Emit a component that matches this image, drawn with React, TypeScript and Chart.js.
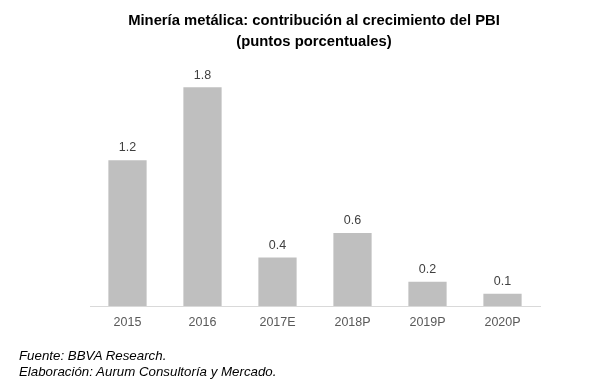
import React, { useEffect, useRef } from "react";
import { Chart, registerables } from "chart.js";

Chart.register(...registerables);

const categories = ["2015", "2016", "2017E", "2018P", "2019P", "2020P"];
const values = [1.2, 1.8, 0.4, 0.6, 0.2, 0.1];
const titleLines = ["Minería metálica: contribución al crecimiento del PBI", "(puntos porcentuales)"];
const footerLines = ["Fuente: BBVA Research.", "Elaboración: Aurum Consultoría y Mercado."];

const valueLabels = {
  id: "valueLabels",
  afterDatasetsDraw(chart: any) {
    const ctx = chart.ctx;
    const meta = chart.getDatasetMeta(0);
    ctx.save();
    ctx.font = "12.5px 'Liberation Sans', Arial, sans-serif";
    ctx.fillStyle = "#404040";
    ctx.textAlign = "center";
    ctx.textBaseline = "bottom";
    meta.data.forEach((bar: any, i: number) => {
      ctx.fillText(values[i].toFixed(1), bar.x, bar.y - 6);
    });
    ctx.restore();
  },
};

export default function App() {
  const ref = useRef<HTMLCanvasElement>(null);
  useEffect(() => {
    const chart = new Chart(ref.current!, {
      type: "bar",
      data: {
        labels: categories,
        datasets: [
          {
            data: values,
            backgroundColor: "#bfbfbf",
            categoryPercentage: 1,
            barPercentage: 0.51,
          },
        ],
      },
      options: {
        animation: false,
        responsive: false,
        maintainAspectRatio: false,
        layout: { padding: { left: 90, right: 51, top: 63, bottom: 44 } },
        plugins: { legend: { display: false }, tooltip: { enabled: false }, title: { display: false } },
        scales: {
          x: {
            grid: { display: false, drawTicks: false },
            border: { display: true, color: "#d9d9d9", width: 1 },
            ticks: { color: "#595959", padding: 9, font: { size: 12.5, family: "'Liberation Sans', Arial, sans-serif" } },
          },
          y: { display: false, min: 0, max: 2.0 },
        },
      },
      plugins: [valueLabels],
    });
    return () => chart.destroy();
  }, []);
  return (
    <div style={{ position: "absolute", left: 0, top: 0, width: 591, height: 383, background: "#fff", fontFamily: "'Liberation Sans', Arial, sans-serif" }}>
      <canvas ref={ref} width={591} height={383} style={{ position: "absolute", left: 0, top: 0 }} />
      <div style={{ position: "absolute", left: 0, width: 628, top: 10, textAlign: "center", fontWeight: "bold", fontSize: 14.8, lineHeight: "21px", color: "#000" }}>
        {titleLines.map((t) => (
          <div key={t}>{t}</div>
        ))}
      </div>
      <div style={{ position: "absolute", left: 19, top: 348, fontStyle: "italic", fontSize: 13.3, lineHeight: "16px", color: "#000" }}>
        {footerLines.map((t) => (
          <div key={t}>{t}</div>
        ))}
      </div>
    </div>
  );
}
